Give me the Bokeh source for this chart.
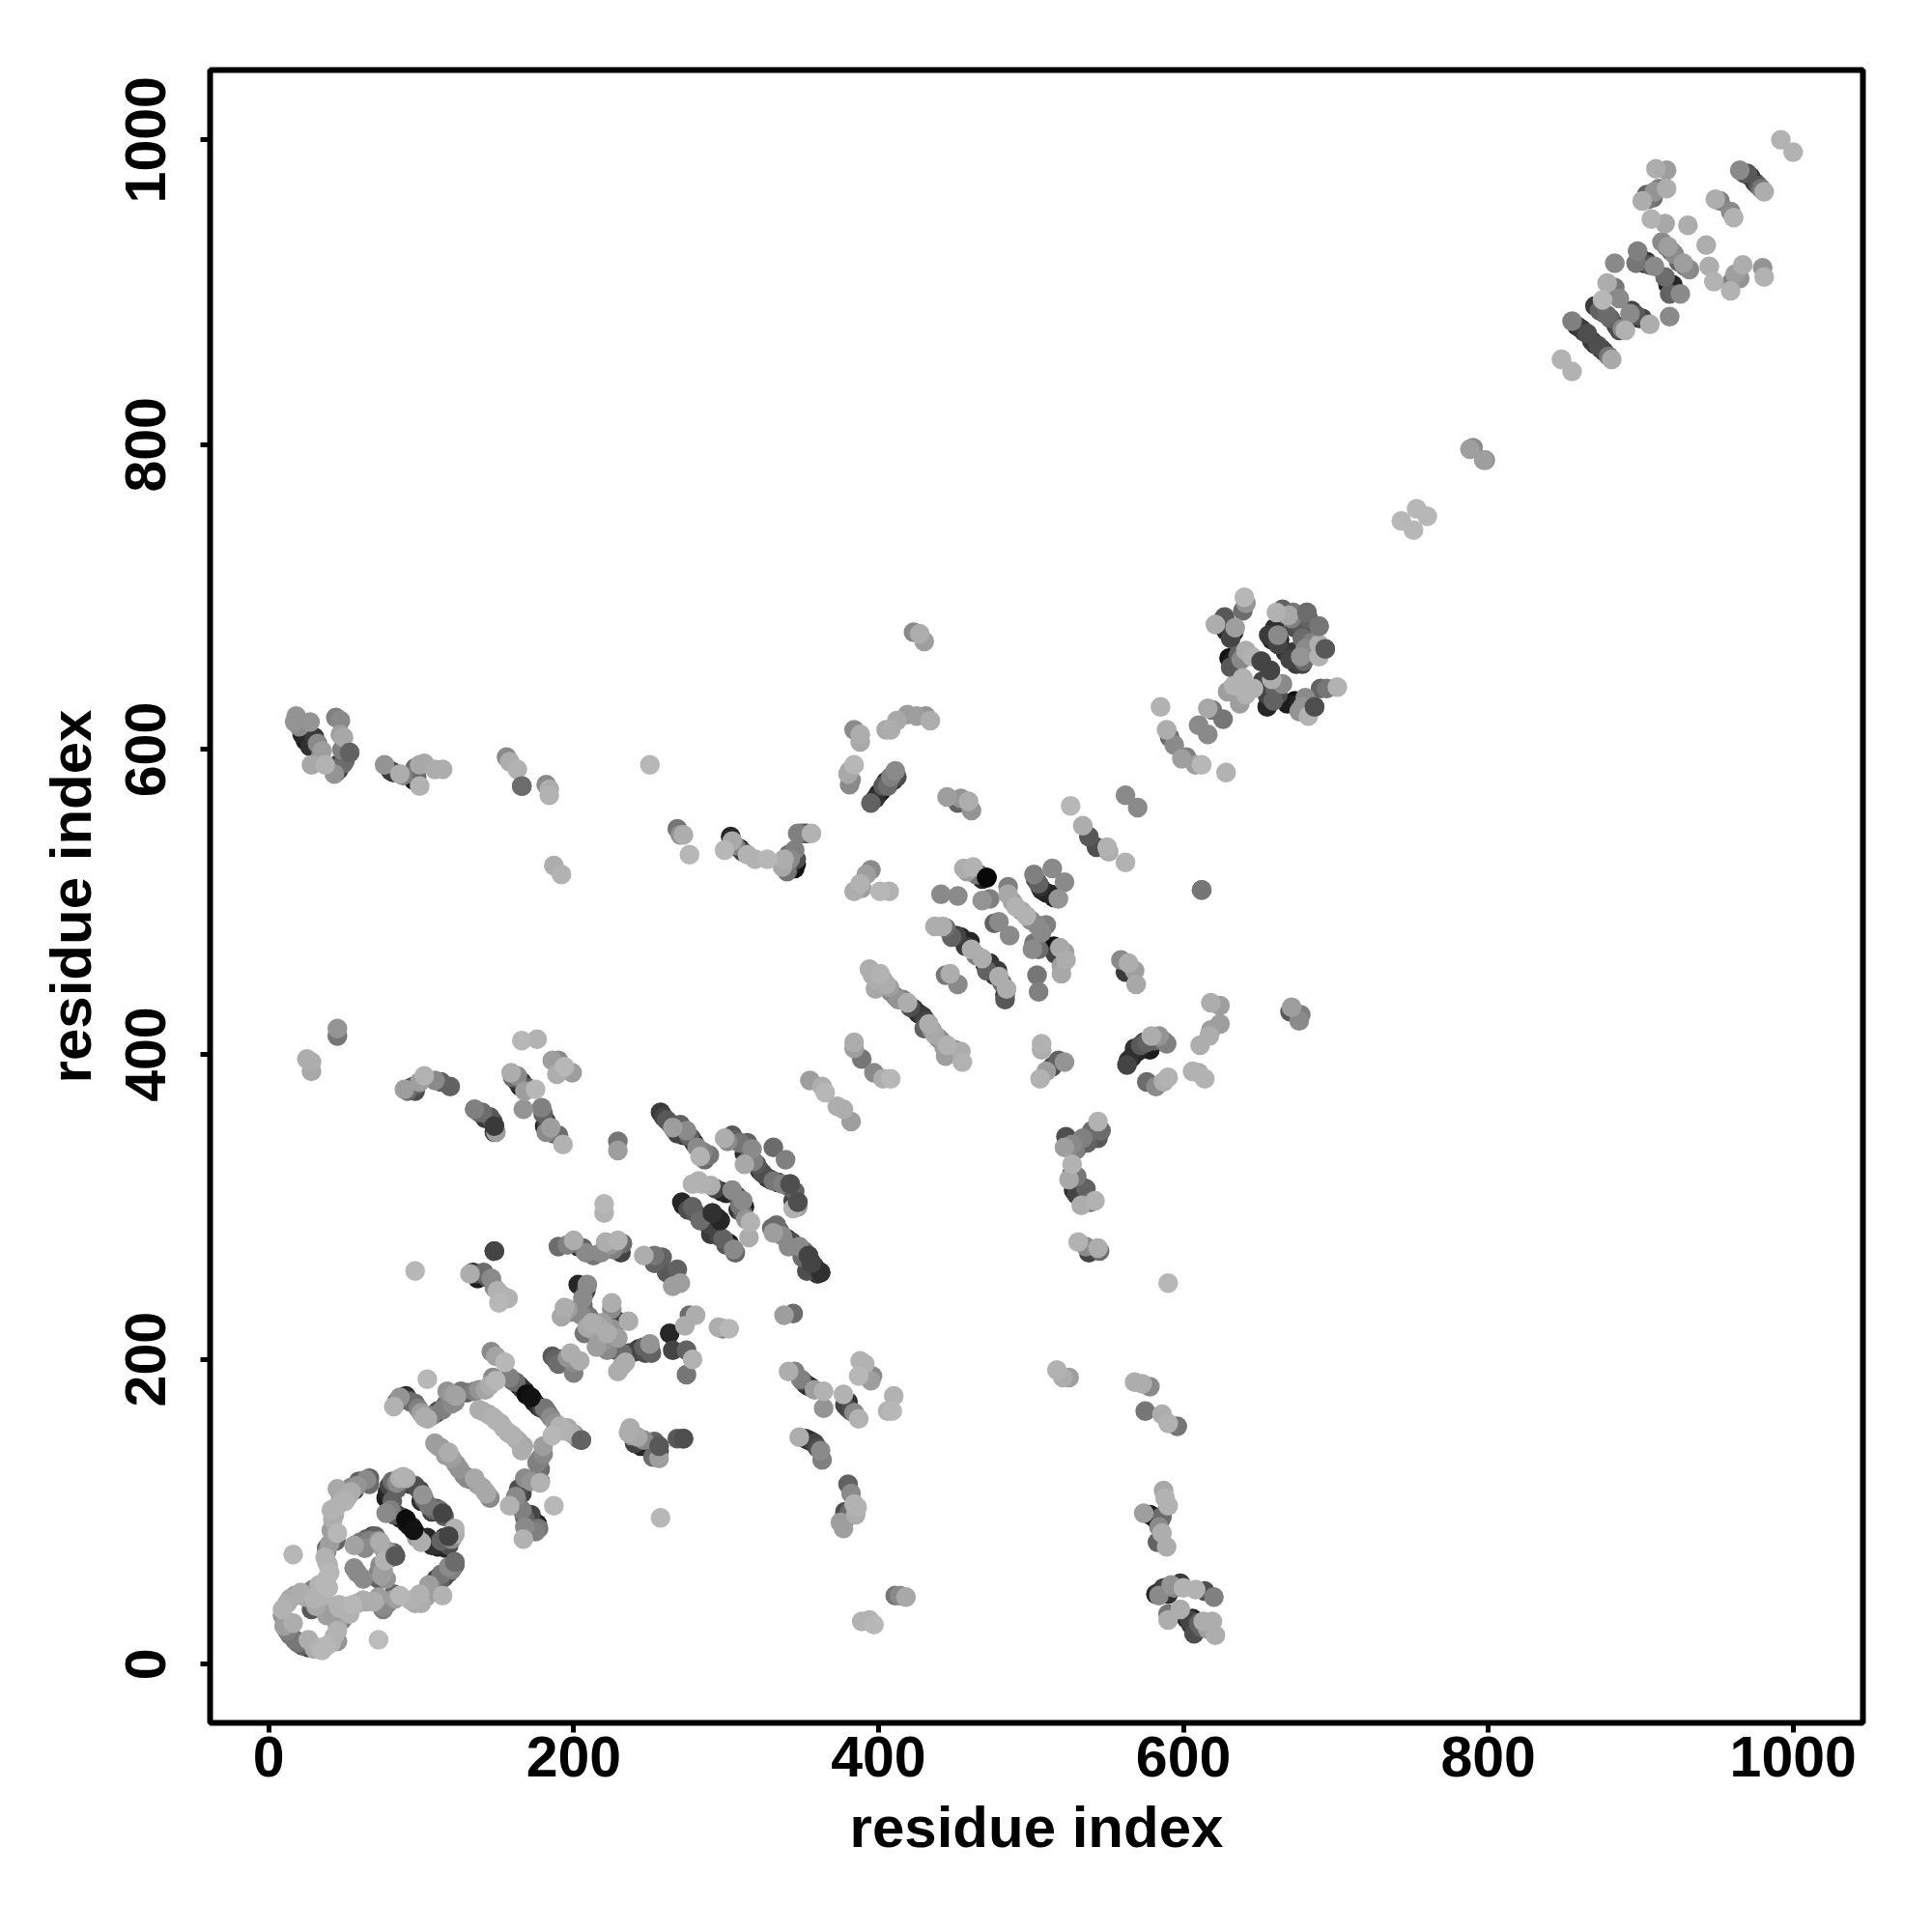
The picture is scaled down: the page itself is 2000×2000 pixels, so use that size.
from bokeh.plotting import figure
from bokeh.embed import file_html
from bokeh.resources import INLINE
from bokeh.models import FixedTicker, ColumnDataSource

# each contact: (residue i, residue j, shade)
ring_low = [(9,36,170),(14,43,160),(21,47,165),(29,49,120),(11,28,60),(16,27,165),(14,19,110),(19,14,110),(26,16,165),(26,11,50),(30,10,165),(35,9,175),(41,14,170),(45,15,140),(45,22,170),(48,29,120),(53,33,170),(46,37,170),(38,32,150),(31,38,160),(28,36,80),(39,50,175),(38,56,175),(33,52,170),(46,39,170),(55,39,175),(50,36,170),(64,41,160),(69,41,165),(75,38,130),(75,36,120),(80,42,130),(86,45,175),(82,46,90),(100,40,165),(99,46,170),(114,45,170),(109,48,90),(105,52,150),(110,56,60),(113,59,110),(118,60,60),(118,64,130),(122,67,100)]
ring_mid = [(77,56,140),(75,61,150),(73,65,130),(83,71,80),(76,68,170),(62,56,130),(56,63,130),(39,65,170),(38,74,130),(38,76,90),(45,86,175),(44,81,90),(40,79,150),(56,78,155),(66,81,120),(70,84,90),(63,76,130),(73,80,165),(78,74,140),(16,72,175),(72,16,180),(41,101,170),(45,104,170),(45,115,160),(47,112,70),(50,107,170),(54,113,165),(56,114,50),(59,120,90),(64,121,130),(66,122,90)]
ring_top = [(78,113,30),(77,109,20),(81,120,100),(84,115,90),(86,122,165),(88,123,170),(99,114,60),(101,111,140),(100,107,40),(108,101,90),(110,102,60),(114,99,60),(77,99,130),(82,98,80),(88,96,5),(94,90,20),(95,88,10),(100,80,165),(111,77,20),(109,79,10),(113,79,30),(113,81,90),(118,84,60),(122,89,170)]
strand_low = [(109,145,150),(113,142,150),(118,139,165),(120,135,150),(123,131,140),(130,122,130),(133,121,60),(135,122,160),(140,116,160),(142,113,160),(145,109,130),(138,167,165),(144,164,165),(149,160,170),(154,155,170),(160,150,170),(164,146,160),(166,140,165),(178,135,120),(180,143,150),(186,150,175),(178,120,110),(168,122,130),(164,115,70),(162,110,130),(158,104,170),(166,101,120),(168,96,90),(174,92,30),(175,87,120),(167,82,170),(171,88,60),(178,119,170),(187,104,175)]
strand_up = [(82,169,170),(86,175,140),(90,176,40),(93,172,100),(98,168,120),(104,161,165),(111,166,50),(114,167,120),(120,171,130),(117,179,140),(123,176,155),(135,179,120),(142,180,155),(149,186,175),(104,187,175),(146,205,130),(149,202,155),(155,198,175),(162,185,100),(166,181,40),(169,177,5),(172,175,10),(177,169,30),(181,168,110),(185,162,130),(198,152,165),(201,150,150),(205,147,90)]
patch_200 = [(134,257,40),(137,253,20),(141,257,100),(146,253,130),(150,245,170),(157,240,170),(151,237,175),(132,256,165),(96,258,175),(148,271,60),(190,274,100),(200,278,165),(203,274,30),(206,273,90),(221,277,165),(229,278,170),(246,268,165),(253,268,110),(258,267,90),(194,234,165),(198,231,130),(209,249,130),(203,249,30),(206,240,130),(207,231,90),(209,221,160),(207,217,110),(216,222,160),(222,217,165),(225,233,130),(225,237,165),(236,225,165),(229,225,60),(215,208,150),(225,208,60),(234,198,165),(229,192,165),(243,207,40),(250,210,140),(251,204,90),(192,200,30),(188,200,90),(198,204,165),(204,199,165),(200,191,120)]
patch_150 = [(237,155,165),(236,152,165),(246,147,130),(244,143,30),(251,143,10),(256,143,80),(256,135,150),(242,149,160),(257,96,175),(268,148,80),(276,229,100),(280,229,165),(273,222,165),(295,221,165),(302,220,175),(298,220,120),(274,206,90),(278,200,170),(274,190,110),(263,217,30),(265,206,60),(253,263,90),(261,257,80),(265,248,150),(268,259,90),(270,250,150),(220,302,175),(220,296,170),(229,343,110),(229,337,150)]
sheet_300 = [(257,362,50),(261,357,80),(265,352,150),(270,354,90),(274,350,130),(277,345,20),(281,339,130),(283,333,170),(289,334,110),(299,345,165),(304,347,80),(314,342,90),(317,338,130),(312,328,160),(315,332,60),(320,328,80),(327,319,50),(331,317,110),(337,315,120),(342,315,70),(347,303,70),(344,299,170),(331,339,100),(339,331,120),(278,315,170),(284,315,170),(290,314,165),(297,310,30),(304,311,130),(311,304,130),(308,298,40),(311,296,90),(316,290,170),(315,280,165),(271,303,30),(278,300,90),(283,291,100),(291,296,40),(296,291,30),(290,282,50),(298,279,90),(305,272,130),(302,276,20),(333,288,100),(331,283,150),(340,279,30),(348,274,130),(354,268,60),(341,274,130),(350,267,100),(353,258,70),(362,257,60),(356,263,60)]
right_200 = [(338,229,150),(344,230,100),(341,192,165),(345,192,120),(349,187,120),(353,183,40),(358,180,150),(364,179,170),(364,168,140),(377,177,170),(380,168,50),(384,165,130),(387,161,170),(388,199,170),(391,197,170),(387,189,175),(396,189,130),(395,186,150),(410,176,170),(409,166,175),(406,166,170),(352,148,40),(348,149,165),(358,145,60),(362,140,130),(363,134,120),(272,148,70),(380,118,90),(382,112,130),(384,105,170),(386,103,170),(377,95,70),(377,89,150),(375,93,150),(385,98,165),(411,45,110),(414,45,130),(418,44,160),(389,28,170),(394,29,170),(397,26,175),(517,193,170),(525,188,150),(521,188,165)]
column_600 = [(590,250,175),(568,185,165),(573,184,165),(578,182,130),(575,166,110),(586,164,165),(590,158,170),(596,156,110),(587,114,160),(588,109,170),(590,104,170),(574,99,150),(580,97,20),(585,95,40),(586,86,165),(583,80,90),(589,77,165),(587,50,50),(584,45,130),(592,52,140),(598,53,50),(600,50,170),(608,49,170),(614,48,70),(620,44,120),(590,33,110),(590,29,165),(598,36,165),(604,29,60),(607,24,30),(613,28,165),(607,20,70),(619,28,165),(621,19,165)]
cross_400 = [(45,417,140),(45,412,110),(25,397,165),(28,395,165),(28,389,160),(89,377,150),(94,377,50),(97,380,90),(102,386,170),(109,383,130),(113,382,90),(119,379,90),(135,364,120),(140,362,100),(145,359,80),(148,353,50),(149,349,150),(166,409,175),(176,410,170),(186,396,150),(190,396,130),(189,387,165),(194,392,175),(199,388,150),(159,388,165),(163,386,130),(166,382,50),(175,377,175),(168,376,150),(167,364,140),(179,365,120),(182,356,50),(185,352,150),(190,347,100),(193,341,170),(182,349,130)]
top_600 = [(18,622,140),(17,618,140),(27,618,140),(22,610,30),(32,604,130),(35,599,150),(28,590,160),(37,590,170),(44,621,120),(47,619,130),(49,608,160),(53,598,90),(49,591,100),(44,585,50),(43,584,140),(76,590,140),(80,586,50),(86,584,165),(93,583,10),(99,576,170),(97,582,100),(102,591,160),(109,587,165),(114,587,165),(156,595,130),(158,592,165),(163,587,170),(166,576,100),(182,577,130),(184,574,165),(184,570,170),(187,524,165),(192,518,170),(250,590,175)]
band_540 = [(268,548,110),(272,544,165),(270,544,140),(276,531,175),(304,540,160),(303,543,30),(309,535,30),(306,537,120),(314,531,170),(319,528,170),(327,528,175),(299,534,175),(337,523,160),(346,525,10),(345,534,120),(342,528,130),(338,528,165),(347,545,120),(351,545,70),(356,545,170),(395,521,130),(392,518,150),(388,512,170),(384,507,165),(389,509,150),(407,507,170),(401,507,175)]
band_600 = [(423,677,130),(427,676,165),(430,671,150),(384,613,130),(388,610,165),(388,605,160),(405,613,160),(408,613,165),(412,619,160),(419,623,150),(425,622,150),(431,622,140),(434,619,165),(384,590,175),(380,584,160),(381,577,130),(411,586,130),(412,582,70),(403,576,80),(400,571,20),(395,565,90),(405,579,40),(445,569,150),(454,568,140),(459,566,165),(461,560,140),(452,565,90)]
block_480 = [(456,522,165),(462,523,170),(466,518,90),(471,516,0),(441,505,130),(452,504,130),(468,501,140),(473,502,120),(485,510,120),(485,505,160),(490,497,170),(497,491,170),(502,518,120),(514,522,130),(505,512,90),(506,510,40),(522,513,130),(513,505,30),(518,502,140),(510,485,120),(504,485,130),(476,486,90),(479,487,130),(486,478,130),(502,473,110),(501,469,130),(515,471,10),(519,470,160),(523,462,165),(520,458,150),(437,484,165),(442,484,165),(448,477,90),(454,477,30),(460,474,30),(461,469,165),(468,463,165),(473,460,40),(478,455,50),(471,455,90),(479,451,165),(484,443,165),(483,436,80),(444,452,110),(447,453,165),(452,446,130),(504,452,110),(505,441,120)]
diag_420 = [(394,456,165),(396,452,165),(401,453,170),(405,446,165),(398,443,160),(408,441,130),(413,436,140),(419,434,165),(423,430,40),(429,425,50),(430,417,90),(433,420,165),(437,413,160),(441,409,130),(445,406,170),(444,399,150),(454,402,165),(455,395,170),(384,408,165),(384,404,150),(389,397,110),(397,388,130),(403,384,165),(408,384,175),(355,383,150),(363,379,165),(365,375,175),(373,366,165),(377,364,165),(382,356,150)]
right_400 = [(507,407,170),(507,403,165),(522,395,140),(518,396,90),(514,392,70),(510,389,150),(506,384,170),(523,346,70),(527,341,130),(534,345,120),(522,339,150),(544,356,170),(546,350,100),(544,345,80),(527,328,170),(530,320,110),(525,318,160),(536,312,90),(530,308,60),(539,303,100),(542,304,170),(533,301,165),(531,277,170),(536,274,130),(544,273,165),(545,271,100),(538,270,60),(677,426,120),(671,431,150),(676,422,130),(670,428,80),(584,412,140),(579,412,165),(576,408,90),(570,402,30),(564,396,40),(563,393,60),(572,406,80),(589,407,120),(618,434,165),(624,432,150),(624,420,150),(617,412,165),(611,406,165),(618,416,150),(576,382,100),(582,379,130),(587,382,165),(590,385,170),(606,389,170),(610,388,165),(614,384,170),(568,455,150),(559,462,130),(564,460,165),(569,446,160),(562,454,50),(612,508,110)]
knot_650 = [(640,700,175),(641,696,140),(639,691,100),(627,687,80),(621,682,165),(634,680,150),(631,675,10),(631,673,60),(665,692,90),(661,690,170),(669,688,160),(681,690,100),(689,681,110),(671,686,120),(673,680,70),(656,675,50),(662,675,130),(662,669,60),(678,673,100),(684,670,120),(689,669,165),(693,666,80),(689,661,170),(667,664,40),(677,661,140),(674,656,50),(679,658,100),(632,658,20),(631,654,80),(641,665,165),(645,661,170),(638,659,130),(651,658,60),(657,652,60),(665,643,130),(658,646,165),(639,647,170),(633,642,170),(646,640,170),(629,638,150),(641,636,170),(637,630,150),(658,637,50),(656,633,20),(659,632,90),(673,632,10),(680,634,130),(690,640,90),(694,640,110),(701,641,170),(686,628,70),(682,622,170),(678,628,140)]
tail_600 = [(585,628,170),(619,626,110),(616,627,160),(626,620,110),(610,616,130),(616,610,130),(589,613,165),(591,608,100),(594,603,130),(602,595,120),(599,594,150),(608,590,150),(612,590,175),(628,585,170),(562,570,130),(570,562,130),(526,563,175),(534,550,165),(538,543,80),(543,536,70),(550,536,170),(551,533,165),(562,526,170)]
far_end = [(992,1000,170),(1000,992,170),(910,981,165),(917,980,150),(917,968,165),(909,966,140),(901,960,165),(905,961,110),(965,980,130),(970,978,80),(977,970,80),(981,966,165),(949,961,165),(952,960,120),(959,953,130),(961,949,170),(907,948,170),(916,945,160),(931,944,165),(943,931,165),(945,917,165),(948,907,170),(967,918,165),(965,909,140),(959,905,110),(959,901,170),(980,916,140),(981,910,170),(914,933,130),(918,930,150),(920,927,90),(928,919,150),(932,915,130),(898,927,120),(904,920,30),(909,917,130),(897,919,110),(883,919,130),(916,910,100),(921,905,30),(926,899,130),(919,899,90),(878,906,165),(883,903,110),(886,896,130),(875,895,175),(878,885,100),(873,888,90),(886,875,70),(893,886,130),(897,885,80),(901,883,60),(906,879,165),(890,875,170),(919,884,130),(855,881,120),(861,876,50),(865,873,70),(872,865,70),(876,861,60),(881,856,160),(848,856,170),(855,848,170),(788,797,150),(790,798,130),(797,790,150),(798,790,130),(743,750,175),(753,758,175),(760,753,175),(751,744,175)]

# further contacts seen partly hidden under those above
hidden_low = [(41,88,150),(42,95,165),(43,98,165),(48,108,165),(52,110,160),(54,116,130),(58,117,140),(61,120,70),(66,118,100),(37,70,170),(38,67,170),(40,60,175),(37,52,175),(36,45,170),(34,42,150),(30,43,170),(24,44,160),(17,45,150),(12,40,165),(9,32,140),(10,25,150),(12,22,120),(17,16,100),(22,12,90),(33,11,170),(38,12,175),(43,18,165),(45,26,150),(47,32,140),(52,38,170),(58,40,165),(62,42,165),(72,44,150),(78,40,120),(83,43,150),(93,42,170),(96,40,165),(103,44,150),(107,50,120),(112,54,90),(115,57,70),(120,62,120),(122,65,90),(116,76,30),(118,78,70),(120,82,130),(122,85,165),(108,78,40),(60,80,110),(64,82,90),(68,84,60),(72,81,140),(75,76,150),(77,72,100),(80,70,120),(82,73,90),(72,60,120),(74,58,150),(72,56,90),(58,60,130),(79,117,60),(80,111,20),(81,107,90),(84,119,130),(90,122,165),(93,118,40),(96,117,70),(102,108,100),(105,104,110),(107,100,50),(112,101,110),(115,97,90),(80,101,120),(84,98,60),(86,96,20),(90,93,10),(92,91,10),(97,85,20),(97,83,150),(104,83,30),(107,78,20),(115,83,50)]
hidden_strands = [(111,143,150),(116,137,150),(125,128,140),(128,124,130),(137,118,150),(143,112,160),(140,166,165),(147,162,170),(152,158,165),(157,152,165),(162,148,165),(167,143,160),(176,132,120),(178,128,100),(180,138,130),(175,122,100),(172,120,140),(166,112,60),(163,107,100),(170,95,40),(172,98,60),(176,92,20),(173,88,90),(168,90,130),(177,89,110),(84,172,90),(88,175,20),(92,173,70),(96,171,90),(100,165,150),(102,162,165),(107,163,120),(110,165,70),(116,170,80),(118,174,110),(121,177,150),(122,172,130),(126,179,110),(130,178,90),(138,180,140),(145,183,165),(147,188,130),(158,188,120),(160,186,80),(164,183,30),(168,179,10),(174,172,20),(179,168,60),(183,165,90),(188,158,140),(191,156,170),(194,153,170),(196,155,160),(200,151,120),(203,148,100)]
hidden_sheet = [(259,359,60),(263,355,70),(266,351,20),(268,348,60),(272,347,50),(276,346,90),(279,342,40),(285,336,120),(286,331,100),(301,343,130),(306,344,90),(309,342,110),(312,335,40),(316,335,90),(318,330,120),(322,324,40),(324,322,70),(329,318,50),(334,316,40),(340,314,90),(345,310,90),(347,300,150),(344,304,60),(282,317,170),(293,312,60),(300,309,30),(307,307,60),(309,301,110),(312,300,20),(313,292,140),(272,301,20),(275,298,70),(280,296,80),(285,293,40),(288,289,60),(294,293,20),(292,283,30),(295,281,60),(300,275,80),(306,270,90),(330,286,100),(335,284,80),(337,281,130),(343,277,70),(345,275,30),(351,271,100),(355,265,40),(358,261,50),(360,256,50)]
hidden_patch = [(208,245,70),(206,236,100),(205,229,130),(210,228,110),(212,224,165),(213,219,150),(219,224,150),(225,220,140),(229,214,150),(220,212,140),(222,206,130),(228,206,70),(232,204,100),(232,196,160),(236,204,60),(240,205,60),(246,208,90),(247,204,70),(250,207,40),(192,228,160),(196,233,150),(186,202,80),(190,197,100),(196,201,140),(200,198,130),(137,256,60),(143,254,80),(148,247,130),(153,242,165),(238,150,150),(240,145,60),(248,144,20),(253,146,90),(254,139,60),(252,136,100),(256,140,60),(196,275,120),(208,270,130),(213,268,110),(218,270,130),(224,275,140),(226,272,120),(232,276,100),(231,270,60)]
hidden_mid = [(444,483,100),(451,478,60),(457,471,50),(464,465,120),(470,459,20),(474,456,30),(476,452,40),(481,447,100),(483,439,40),(458,520,150),(464,518,110),(468,515,30),(503,515,60),(507,508,30),(510,506,20),(515,503,20),(488,500,150),(494,494,160),(500,488,130),(507,480,130),(505,469,100),(516,466,60),(522,467,150),(520,453,160),(399,449,165),(403,449,165),(407,444,150),(411,438,130),(416,436,120),(421,431,70),(426,427,30),(431,422,60),(435,416,140),(439,411,110),(443,405,150),(450,403,130),(568,404,40),(572,405,30),(574,408,60),(578,403,20),(581,409,90),(566,398,30),(587,409,120),(530,338,90),(537,342,90),(540,350,100),(525,343,40),(529,337,120),(527,322,100),(532,314,60),(534,308,30),(537,306,60),(536,303,20),(528,311,40)]
hidden_knot = [(625,684,70),(628,678,30),(633,677,20),(628,683,10),(660,680,40),(658,672,30),(663,672,20),(668,688,100),(672,690,110),(675,684,80),(679,680,80),(682,686,90),(684,672,90),(680,666,130),(686,664,60),(672,664,50),(670,659,60),(678,656,60),(652,645,60),(655,636,60),(660,640,90),(662,636,70),(655,628,30),(668,630,20),(676,630,30),(676,625,140),(680,626,100),(630,660,10),(634,655,40),(636,662,90)]
hidden_far = [(900,922,50),(902,919,20),(906,918,80),(917,930,100),(922,925,130),(925,920,90),(929,917,110),(870,891,50),(875,887,60),(880,883,90),(884,878,60),(888,876,130),(858,878,40),(863,874,40),(868,868,50),(870,866,30),(874,863,30),(879,858,110),(908,962,100),(912,968,120),(968,978,70),(972,976,40),(975,972,50),(979,968,110),(918,905,20),(922,902,30),(894,888,60),(899,883,50),(960,907,120),(962,912,150),(904,964,90)]
hidden_rest = [(20,615,130),(22,612,20),(24,606,20),(27,602,40),(30,608,50),(34,596,120),(45,590,60),(46,587,60),(50,593,80),(48,600,120),(47,610,150),(82,585,40),(88,583,120),(95,580,20),(95,585,40),(96,588,100),(99,590,160),(305,537,40),(311,533,60),(340,520,110),(342,523,30),(345,522,10),(346,528,70),(341,531,100),(349,545,90),(353,545,60),(398,568,40),(402,573,20),(406,576,100),(408,582,120),(410,580,40),(382,580,130),(381,586,160),(91,376,100),(93,378,70),(95,379,30),(96,376,70),(99,382,150),(138,362,90),(142,358,50),(147,356,70),(148,349,50),(160,385,100),(163,382,40),(165,379,20),(170,378,90),(180,361,90),(181,353,30),(184,349,110),(187,348,60),(578,98,10),(582,95,20),(586,97,100),(584,90,130),(582,46,30),(584,47,50),(588,50,60),(590,46,40),(594,50,130),(602,30,30),(605,26,40),(606,30,30),(610,27,90),(612,24,90),(616,23,150),(354,147,30),(356,146,40),(360,142,70),(378,100,70),(378,98,30),(380,97,30),(381,100,100),(350,186,70),(352,184,30),(355,182,20),(378,170,60),(380,172,40),(382,166,70)]
# contacts that lie fully visible on top of their neighbours
exposed = [(471,516,0),(90,95,5),(95,88,10),(169,177,5),(172,175,10),(362,257,40),(356,263,60),(354,268,60),(53,598,90),(612,508,110),(693,666,80),(651,658,60),(657,652,60),(686,628,70),(681,690,100),(689,681,110),(256,143,80),(347,303,70),(342,315,70),(272,148,70),(148,271,60),(296,291,30),(291,296,40),(114,99,60),(83,71,80),(205,147,90),(166,576,100),(148,353,50),(122,67,100),(118,84,60)]

regions = [ring_low, ring_mid, ring_top, strand_low, strand_up, patch_200, patch_150, sheet_300,
           right_200, column_600, cross_400, top_600, band_540, band_600, block_480, diag_420,
           right_400, knot_650, tail_600, far_end,
           hidden_low, hidden_strands, hidden_sheet, hidden_patch, hidden_mid, hidden_knot, hidden_far, hidden_rest]
tick_values = [0, 200, 400, 600, 800, 1000]

contacts = sorted((c for region in regions for c in region), key=lambda c: c[2]) + exposed
xs = [c[0] for c in contacts]
ys = [c[1] for c in contacts]
colors = []
for c in contacts:
    level = min(c[2] + 8, 255)
    colors.append("#%02x%02x%02x" % (level, level, level))
source = ColumnDataSource(dict(x=xs, y=ys, c=colors))

p = figure(width=1980, height=1980, output_backend="svg", toolbar_location=None,
           x_range=(-38.5, 1045.8), y_range=(-38.5, 1045.8),
           min_border_left=217, min_border_right=52, min_border_top=72, min_border_bottom=197)
p.scatter("x", "y", source=source, size=20.5, color="c", line_color=None)

p.grid.visible = False
p.outline_line_color = "black"
p.outline_line_width = 6
p.background_fill_color = "white"

for ax in (p.xaxis[0], p.yaxis[0]):
    ax.ticker = FixedTicker(ticks=tick_values)
    ax.axis_line_color = None
    ax.minor_tick_line_color = None
    ax.major_tick_line_color = "black"
    ax.major_tick_line_width = 5
    ax.major_tick_in = 0
    ax.major_tick_out = 10
    ax.major_label_text_font = "Liberation Sans"
    ax.major_label_text_font_style = "bold"
    ax.major_label_text_font_size = "59px"
    ax.major_label_text_color = "black"
    ax.axis_label = "residue index"
    ax.axis_label_text_font = "Liberation Sans"
    ax.axis_label_text_font_style = "bold"
    ax.axis_label_text_font_size = "60px"
    ax.axis_label_text_color = "black"
p.xaxis[0].major_label_standoff = 4
p.xaxis[0].axis_label_standoff = 16
p.yaxis[0].major_label_standoff = 36
p.yaxis[0].axis_label_standoff = 21
p.yaxis[0].major_label_orientation = "vertical"

open("out.html", "w").write(file_html(p, INLINE))
